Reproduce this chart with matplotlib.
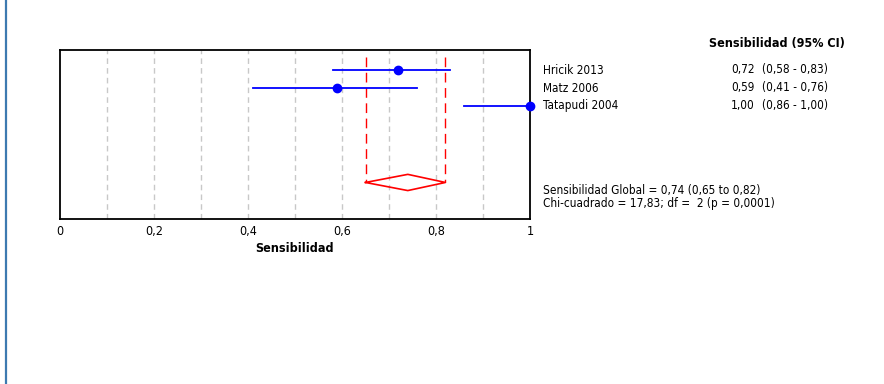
import matplotlib
matplotlib.use('Agg')
import matplotlib.pyplot as plt
from matplotlib.lines import Line2D

plt.rcParams['font.family'] = ['DejaVu Sans']
plt.rcParams['font.stretch'] = 'condensed'

studies = ['Hricik 2013', 'Matz 2006', 'Tatapudi 2004']
sens = [0.72, 0.59, 1.00]
ci_low = [0.58, 0.41, 0.86]
ci_high = [0.83, 0.76, 1.00]
pooled = 0.74
pooled_low = 0.65
pooled_high = 0.82
summary_lines = ['Sensibilidad Global = 0,74 (0,65 to 0,82)',
                 'Chi-cuadrado = 17,83; df =  2 (p = 0,0001)']


def fmt(v):
    return ('%.2f' % v).replace('.', ',')


W, H = 884, 384
fig = plt.figure(figsize=(W / 100, H / 100), dpi=100)
ax = fig.add_axes([60 / W, (H - 219) / H, 470 / W, 169 / H])

rows = [1, 2, 3]
diamond_row = 7.25
diamond_h = 0.45

# grid
for g in [0.1, 0.2, 0.3, 0.4, 0.5, 0.6, 0.7, 0.8, 0.9]:
    ax.axvline(g, color='#c8c8c8', lw=1, ls=(0, (4, 3)), zorder=0)

# pooled estimate: dashed red lines + diamond
for v in [pooled_low, pooled_high]:
    ax.plot([v, v], [0.3, diamond_row], color='red', lw=1, ls=(0, (7, 4)), zorder=1)
ax.plot([pooled_low, pooled, pooled_high, pooled, pooled_low],
        [diamond_row, diamond_row - diamond_h, diamond_row, diamond_row + diamond_h, diamond_row],
        color='red', lw=1.2, zorder=2)

# studies
for r, s, lo, hi in zip(rows, sens, ci_low, ci_high):
    ax.plot([lo, hi], [r, r], color='blue', lw=1.3, zorder=3)
    ax.plot(s, r, 'o', color='blue', ms=6, zorder=4, clip_on=False)

fs = 8.5
ax.set_xlim(0, 1)
ax.set_ylim(9.28, -0.11)
ax.set_yticks([])
ax.set_xticks([0, 0.2, 0.4, 0.6, 0.8, 1])
ax.set_xticklabels(['0', '0,2', '0,4', '0,6', '0,8', '1'], fontsize=fs + 0.5)
ax.tick_params(axis='x', length=0, pad=4)
for sp in ax.spines.values():
    sp.set_linewidth(1.3)
    sp.set_color('black')
ax.set_xlabel('Sensibilidad', fontsize=9, fontweight='bold', labelpad=3)

# right-hand text
def px(x, y):
    return x / W, 1 - y / H

fig.text(*px(845, 43), 'Sensibilidad (95% CI)', fontsize=9, fontweight='bold',
         ha='right', va='center')
ys = [70, 88, 106]
for y, name, s, lo, hi in zip(ys, studies, sens, ci_low, ci_high):
    fig.text(*px(543, y), name, fontsize=fs, va='center')
    fig.text(*px(755, y), fmt(s), fontsize=fs, va='center', ha='right')
    fig.text(*px(762, y), '(%s - %s)' % (fmt(lo), fmt(hi)), fontsize=fs, va='center')
fig.text(*px(543, 191), summary_lines[0], fontsize=fs, va='center')
fig.text(*px(543, 204), summary_lines[1], fontsize=fs, va='center')

# left page border
fig.add_artist(Line2D([5.5 / W, 5.5 / W], [0, 1], color='#3d7ab0', lw=1.6))

fig.savefig('out.png', dpi=100)
